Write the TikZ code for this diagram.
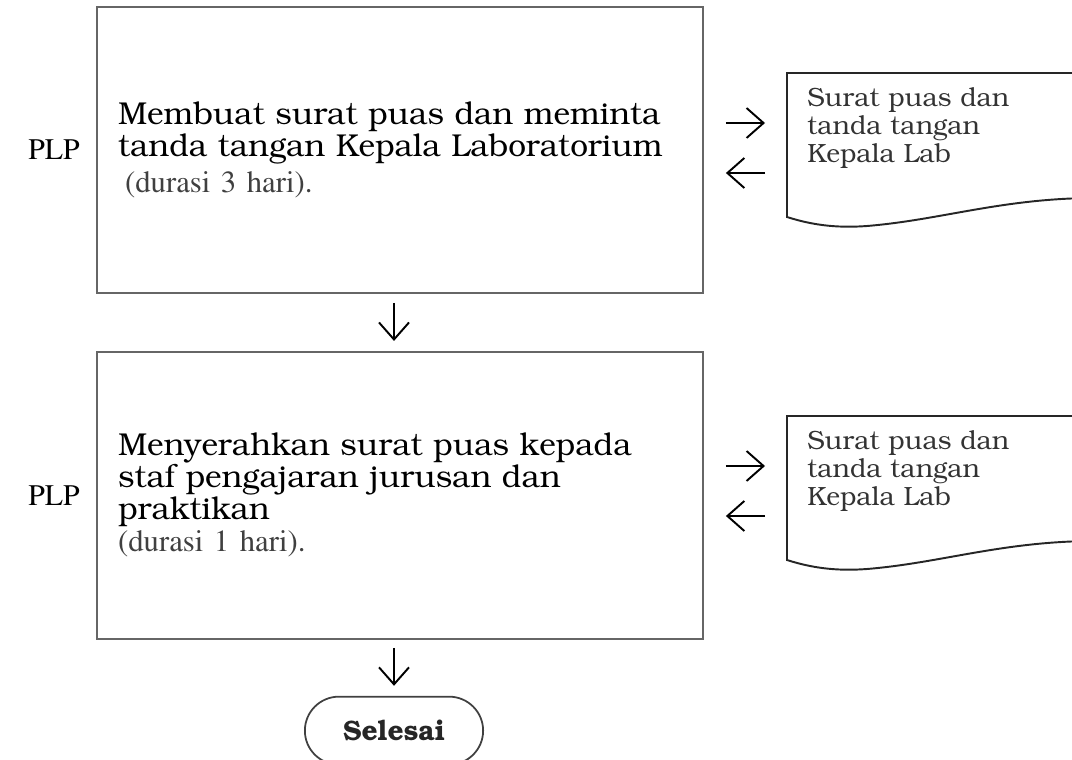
\documentclass[tikz,border=0pt]{standalone}
\usepackage[T1]{fontenc}
\usetikzlibrary{arrows.meta,positioning,calc,shapes.misc}

\newcommand{\bkfont}{\fontfamily{pbk}\selectfont}
\newcommand{\tmfont}{\fontfamily{ptm}\selectfont}
\newcommand{\durasi}[1]{{\tmfont\fontsize{17.5pt}{20pt}\selectfont\color{black!75}#1}}

\begin{document}
\begin{tikzpicture}[x=0.02cm,y=-0.02cm,
	flow/.style={-{Straight Barb[length=0.34cm,width=0.6cm]},line width=1.1pt},
	stepbox/.style={draw=black!60,line width=1.1pt,minimum width=12.12cm,minimum height=5.72cm,text width=11.28cm,inner xsep=0.42cm,align=left,font=\bkfont\fontsize{18pt}{18.2pt}\selectfont},
	actor/.style={inner sep=0pt,font=\tmfont\fontsize{17pt}{20pt}\selectfont},
	docnode/.style={anchor=north west,text width=5.2cm,inner xsep=0.4cm,inner ysep=0.3cm,align=left,text=black!80,font=\bkfont\fontsize{15pt}{16pt}\selectfont},
	docline/.style={draw=black!85,line width=1.1pt},
	terminal/.style={draw=black!75,line width=1pt,rounded rectangle,minimum width=3.8cm,minimum height=1.36cm,text=black!85,font=\bkfont\bfseries\fontsize{16pt}{18pt}\selectfont}]
	\useasboundingbox (0,0) rectangle (1072,760);

	\node[stepbox]                                   (box1) at (400,150) {Membuat surat puas dan meminta\\tanda tangan Kepala Laboratorium\\[2pt]\durasi{\hspace*{0.14cm}(durasi 3 hari).}};
	\node[stepbox,minimum height=5.74cm]             (box2) [below=1.14cm of box1] {Menyerahkan surat puas kepada\\staf pengajaran jurusan dan\\praktikan\\\durasi{(durasi 1 hari).}};
	\node[terminal,xshift=-0.12cm]                   (fin)  [below=1.12cm of box2] {Selesai};
	\node[actor]                                     (plp1) [left=0.32cm of box1] {PLP};
	\node[actor]                                     (plp2) [left=0.32cm of box2] {PLP};
	\node[docnode]                                   (doc1) at (787,73)  {Surat puas dan\\tanda tangan\\Kepala Lab};
	\node[docnode]                                   (doc2) at (787,416) {Surat puas dan\\tanda tangan\\Kepala Lab};

	% dokumen
	\begin{scope}[shift={(doc1.north west)}]
		\draw[docline] (0,0) -- (303,0) -- (303,125) .. controls (213,126) and (153,147) .. (80,153) .. controls (53,155) and (28,153) .. (0,144) -- cycle;
	\end{scope}
	\begin{scope}[shift={(doc2.north west)}]
		\draw[docline] (0,0) -- (303,0) -- (303,125) .. controls (213,126) and (153,147) .. (80,153) .. controls (53,155) and (28,153) .. (0,144) -- cycle;
	\end{scope}

	\draw[flow,shorten <=0.18cm,shorten >=0.2cm] (box1.south -| fin.north) -- (box2.north -| fin.north);
	\draw[flow,shorten <=0.16cm,shorten >=0.2cm] (box2.south -| fin.north) -- (fin.north);

	\draw[flow,shorten <=0.44cm,shorten >=0.44cm] ($(box1.east |- doc1.north)+(0,50)$)  -- ($(doc1.north west)+(0,50)$);
	\draw[flow,shorten <=0.44cm,shorten >=0.44cm] ($(doc1.north west)+(0,100)$)       -- ($(box1.east |- doc1.north)+(0,100)$);
	\draw[flow,shorten <=0.44cm,shorten >=0.44cm] ($(box2.east |- doc2.north)+(0,50)$)  -- ($(doc2.north west)+(0,50)$);
	\draw[flow,shorten <=0.44cm,shorten >=0.44cm] ($(doc2.north west)+(0,100)$)       -- ($(box2.east |- doc2.north)+(0,100)$);
\end{tikzpicture}
\end{document}
